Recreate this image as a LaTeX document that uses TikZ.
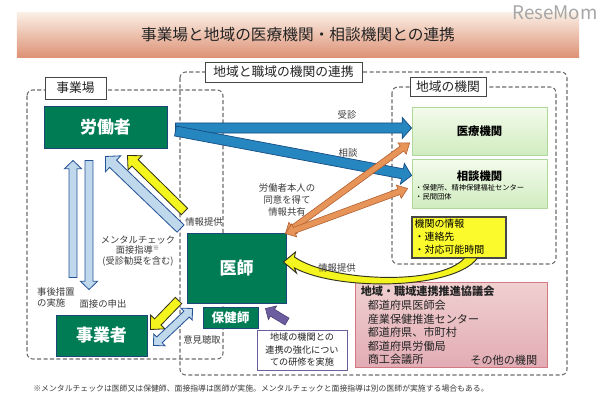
\documentclass[tikz,border=0pt]{standalone}
\usepackage{fontspec}
\setmainfont{Noto Sans CJK JP}
\usetikzlibrary{calc}

\definecolor{boxgreen}{RGB}{0,124,84}
\definecolor{boxedge}{RGB}{30,70,120}
\definecolor{arrblue}{RGB}{38,134,192}
\definecolor{arrblueedge}{RGB}{22,78,132}
\definecolor{arrlight}{RGB}{192,216,236}
\definecolor{arrlightedge}{RGB}{36,82,150}
\definecolor{arryellow}{RGB}{244,244,30}
\definecolor{arryellowedge}{RGB}{50,50,30}
\definecolor{arrorange}{RGB}{230,148,88}
\definecolor{arrorangeedge}{RGB}{178,96,50}
\definecolor{arrpurple}{RGB}{108,92,160}
\definecolor{dashgray}{RGB}{110,110,110}
\definecolor{tagedge}{RGB}{70,70,70}
\definecolor{textgray}{RGB}{60,60,60}
\definecolor{textdark}{RGB}{35,35,35}
\definecolor{pinktop}{RGB}{240,208,208}
\definecolor{pinkmid}{RGB}{248,236,236}
\definecolor{pinkbot}{RGB}{226,172,180}
\definecolor{pinkedge}{RGB}{212,120,132}
\definecolor{greentop}{RGB}{244,251,236}
\definecolor{greenbot}{RGB}{208,236,192}
\definecolor{greenedge}{RGB}{176,216,156}
\definecolor{infofill}{RGB}{250,250,45}
\definecolor{bandtop}{RGB}{250,238,228}
\definecolor{bandbot}{RGB}{222,146,118}

% fat arrow: style, from, to, half shaft, half head, head length
\newcommand{\fatarrow}[6]{%
  \filldraw[#1] ($(#2)!#4!90:(#3)$)
    -- ($($(#3)!#6!(#2)$)!#4!90:(#3)$)
    -- ($($(#3)!#6!(#2)$)!#5!90:(#3)$)
    -- (#3)
    -- ($($(#3)!#6!(#2)$)!#5!-90:(#3)$)
    -- ($($(#3)!#6!(#2)$)!#4!-90:(#3)$)
    -- ($(#2)!#4!-90:(#3)$) -- cycle;}

% same, with a head at both ends
\newcommand{\fatdarrow}[6]{%
  \filldraw[#1] (#2)
    -- ($($(#2)!#6!(#3)$)!#5!90:(#3)$)
    -- ($($(#2)!#6!(#3)$)!#4!90:(#3)$)
    -- ($($(#3)!#6!(#2)$)!#4!90:(#3)$)
    -- ($($(#3)!#6!(#2)$)!#5!90:(#3)$)
    -- (#3)
    -- ($($(#3)!#6!(#2)$)!#5!-90:(#3)$)
    -- ($($(#3)!#6!(#2)$)!#4!-90:(#3)$)
    -- ($($(#2)!#6!(#3)$)!#4!-90:(#3)$)
    -- ($($(#2)!#6!(#3)$)!#5!-90:(#3)$)
    -- cycle;}

\begin{document}
\begin{tikzpicture}[x=0.03cm, y=-0.03cm,
    actor/.style={draw=boxedge, line width=0.8pt, fill=boxgreen, text=white, inner sep=0pt},
    dashbox/.style={draw=dashgray, line width=0.9pt, dash pattern=on 3.5pt off 2pt, rounded corners=5pt},
    tagbox/.style={draw=tagedge, fill=white, line width=0.7pt, inner sep=0pt, text=textdark, font=\fontsize{10.9}{12}\selectfont},
    organ/.style={draw=greenedge, line width=0.7pt, top color=greentop, bottom color=greenbot, inner sep=0pt},
    lbl/.style={text=textgray, inner sep=0pt, font=\fontsize{8}{10}\selectfont},
    bluearr/.style={fill=arrblue, draw=arrblueedge, line width=0.6pt},
    lightarr/.style={fill=arrlight, draw=arrlightedge, line width=0.7pt},
    yellowarr/.style={fill=arryellow, draw=arryellowedge, line width=0.7pt},
    orangearr/.style={fill=arrorange, draw=arrorangeedge, line width=0.5pt},
    purplearr/.style={fill=arrpurple, draw=arrpurple!70!black, line width=0.5pt}]

    \fill[white] (0,0) rectangle (600,419);
    \useasboundingbox (0,0) rectangle (600,419);

    % title
    \node[top color=bandtop, bottom color=bandbot, minimum width=16.86cm, minimum height=1.32cm,
      inner sep=0pt, text=textdark, font=\fontsize{13.4}{15}\selectfont] (band) at (298,35)
      {事業場と地域の医療機関・相談機関との連携};
    \node[text=gray!70, inner sep=0pt, font=\fontsize{16}{16}\selectfont] (logo) at (555,13) {ReseMom};

    % dashed areas
    \draw[dashbox] (180,72) rectangle (567,375);
    \draw[dashbox] (27,90) rectangle (223,359);
    \draw[dashbox] (392,87) rectangle (556,264);
    \node[tagbox, minimum width=4.71cm, minimum height=0.6cm] (tag-renkei) at (283.5,72) {地域と職域の機関の連携};
    \node[tagbox, minimum width=1.83cm, minimum height=0.66cm] (tag-jigyoba) at (75.5,88) {事業場};
    \node[tagbox, minimum width=2.28cm, minimum height=0.57cm] (tag-chiiki) at (448,86.5) {地域の機関};

    % 事業場
    \node[actor, minimum width=3.69cm, minimum height=1.26cm, font=\bfseries\fontsize{14.5}{16}\selectfont] (worker) at (105.5,127) {労働者};
    \node[actor, minimum width=2.73cm, minimum height=1.23cm, font=\bfseries\fontsize{14.5}{16}\selectfont] (employer) at (101.5,335.5) {事業者};
    \node[actor, minimum width=2.97cm, minimum height=2.1cm, font=\bfseries\fontsize{14.5}{16}\selectfont] (doctor) at (236.5,268) {医師};
    \node[actor, minimum width=1.65cm, minimum height=0.63cm, font=\bfseries\fontsize{10.8}{12}\selectfont] (nurse) at (230.5,317.5) {保健師};

    % 地域の機関
    \node[organ, minimum width=4.05cm, minimum height=1.44cm, font=\bfseries\fontsize{9.7}{11}\selectfont] (medical) at (479.5,131) {医療機関};
    \node[organ, minimum width=4.05cm, minimum height=1.47cm] (consult) at (479.5,183.5) {};
    \node[inner sep=0pt, font=\bfseries\fontsize{9.7}{11}\selectfont] (consult-name) at (479.5,176) {相談機関};
    \node[anchor=west, align=left, inner sep=0pt, font=\fontsize{6.2}{7.7}\selectfont] (consult-list) at (415,192.5)
      {・保健所、精神保健福祉センター\\・民間団体};
    \node[draw=tagedge, line width=1.1pt, fill=infofill, minimum width=2.82cm, minimum height=1.23cm] (info) at (459,237.5) {};
    \node[anchor=north west, align=left, inner sep=0pt, font=\fontsize{8.5}{11.1}\selectfont] (info-text)
      at ($(info.north west)+(3,3)$) {機関の情報\\・連絡先\\・対応可能時間};

    % 協議会
    \node[draw=pinkedge, line width=0.7pt, top color=pinktop, middle color=pinkmid, bottom color=pinkbot,
      minimum width=5.76cm, minimum height=2.55cm] (council) at (451,324.5) {};
    \node[anchor=north west, align=left, inner sep=0pt, text=textdark, font=\fontsize{9.5}{11.6}\selectfont] (council-text)
      at ($(council.north west)+(6,4.5)$)
      {\textbf{地域・職域連携推進協議会}\\\hspace*{6pt}都道府県医師会\\\hspace*{6pt}産業保健推進センター\\
       \hspace*{6pt}都道府県、市町村\\\hspace*{6pt}都道府県労働局\\\hspace*{6pt}商工会議所};
    \node[anchor=east, inner sep=0pt, text=textdark, font=\fontsize{9.5}{11.6}\selectfont] (others)
      at ($(council.south east)+(-10,-7)$) {その他の機関};

    % 研修
    \node[draw=arrpurple, line width=0.8pt, fill=white, minimum width=2.7cm, minimum height=1.2cm, inner sep=0pt,
      align=center, text=textdark, font=\fontsize{7.8}{10.7}\selectfont] (training) at (302,350)
      {地域の機関との\\連携の強化につい\\ての研修を実施};

    % 労働者 -> 医療機関, 相談機関
    \coordinate (jushin-s) at ($(worker.east)+(8,1)$);
    \coordinate (jushin-e) at ($(medical.west)+(0,-3)$);
    \coordinate (soudan-s) at ($(worker.east)+(8,4)$);
    \coordinate (soudan-e) at ($(consult.west)+(0,-8)$);
    \fatarrow{bluearr}{jushin-s}{jushin-e}{4.3pt}{9pt}{8pt}
    \fatarrow{bluearr}{soudan-s}{soudan-e}{4.3pt}{9pt}{8pt}

    % 情報共有
    \coordinate (kyoyu-s) at ($(doctor.north east)+(-1,1)$);
    \coordinate (kyoyu-e1) at ($(medical.west)+(-2,12)$);
    \coordinate (kyoyu-e2) at ($(consult.west)+(-4,5)$);
    \fatdarrow{orangearr}{kyoyu-s}{kyoyu-e1}{2.6pt}{6pt}{8pt}
    \fatdarrow{orangearr}{kyoyu-s}{kyoyu-e2}{2.6pt}{6pt}{8pt}

    % 医師 -> 労働者
    \coordinate (teikyo-s) at ($(doctor.north west)+(-2,-21)$);
    \coordinate (teikyo-e) at ($(worker.south)+(22,7)$);
    \coordinate (mental-s) at ($(doctor.north west)+(-6,-4)$);
    \coordinate (mental-e) at ($(worker.south)+(0,8)$);
    \fatarrow{lightarr}{mental-s}{mental-e}{4.3pt}{9.4pt}{9pt}
    \fatarrow{yellowarr}{teikyo-s}{teikyo-e}{3.8pt}{8.5pt}{9pt}

    % 労働者 <-> 事業者
    \coordinate (jigo-s) at ($(employer.north)+(-28.5,-37)$);
    \coordinate (jigo-e) at ($(worker.south)+(-32.5,12)$);
    \coordinate (moushide-s) at ($(worker.south)+(-16.5,12)$);
    \coordinate (moushide-e) at ($(employer.north)+(-12.5,-25)$);
    \fatarrow{lightarr}{jigo-s}{jigo-e}{3.4pt}{7.3pt}{7pt}
    \fatarrow{lightarr}{moushide-s}{moushide-e}{3.4pt}{7.3pt}{7pt}

    % 医師 <-> 事業者
    \coordinate (shiji-s) at ($(doctor.south west)+(-8,-3)$);
    \coordinate (shiji-e) at ($(employer.east)+(3,-6)$);
    \fatarrow{yellowarr}{shiji-s}{shiji-e}{3.8pt}{8.5pt}{9pt}
    \coordinate (iken-s) at ($(employer.east)+(6,10)$);
    \coordinate (iken-e) at ($(doctor.south west)+(6,5)$);
    \fatdarrow{lightarr}{iken-s}{iken-e}{3.4pt}{7pt}{7pt}

    % 研修 -> 保健師
    \coordinate (kenshu-s) at ($(training.north)+(-15,-8)$);
    \coordinate (kenshu-e) at ($(nurse.east)+(7,-9)$);
    \fatarrow{purplearr}{kenshu-s}{kenshu-e}{3.4pt}{6.8pt}{7pt}

    % 機関の情報 -> 医師
    \coordinate (sw-tip) at ($(doctor.east)+(-3,-6)$);
    \begin{scope}[shift={(sw-tip)}]
      \filldraw[yellowarr, line width=0.8pt] (0,0) -- (12,-10) -- (11,-5)
        .. controls (47,20) and (157,24) .. (181,-4) -- (194,-4)
        .. controls (172,27) and (57,30) .. (11,6) -- (13,11) -- cycle;
    \end{scope}

    % labels
    \node[lbl] (l-jushin) at (347,115) {受診};
    \node[lbl] (l-soudan) at (348,153) {相談};
    \node[lbl, align=center, font=\fontsize{8}{10.2}\selectfont] (l-kyoyu) at (287,200) {労働者本人の\\同意を得て\\情報共有};
    \node[lbl] (l-teikyo) at (204,222) {情報提供};
    \node[lbl, align=center, font=\fontsize{7.9}{9.2}\selectfont] (l-mental) at (138,251)
      {メンタルチェック\\面接指導\textsuperscript{※}\\(受診勧奨を含む)};
    \node[lbl, anchor=west, align=left, font=\fontsize{8}{9.5}\selectfont] (l-jigo) at (37,297.5) {事後措置\\の実施};
    \node[lbl] (l-moushide) at (103,304) {面接の申出};
    \node[lbl] (l-iken) at (202,340) {意見聴取};
    \node[lbl] (l-teikyo2) at (337,268) {情報提供};
    \node[lbl, font=\fontsize{6.7}{8}\selectfont] (note) at (261,389)
      {※メンタルチェックは医師又は保健師、面接指導は医師が実施。メンタルチェックと面接指導は別の医師が実施する場合もある。};
\end{tikzpicture}
\end{document}
